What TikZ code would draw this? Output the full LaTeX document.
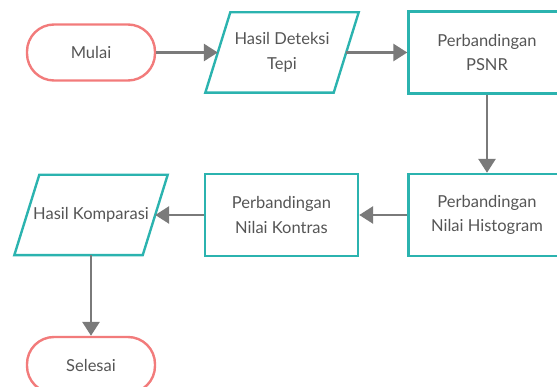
\documentclass[tikz,border=0pt]{standalone}
\usepackage{fontspec}
\setmainfont{Lato}
\usetikzlibrary{arrows.meta,calc}
\definecolor{termred}{HTML}{F27B7B}
\definecolor{tealc}{HTML}{2BB3AF}
\definecolor{arrowgray}{HTML}{7A7A7A}
\definecolor{txtgray}{HTML}{555555}
\begin{document}
\begin{tikzpicture}[x=1pt,y=-1pt,
  every node/.style={font=\fontsize{16.5}{24.5}\selectfont, text=txtgray, align=center, inner sep=0pt},
  terminal/.style={draw=termred, line width=2.4pt, rounded corners=27pt, minimum width=128pt, minimum height=56pt},
  procbox/.style={draw=tealc, line width=2.4pt, minimum width=157pt, minimum height=82pt},
  iobox/.style={minimum width=128pt, minimum height=80pt},
  para/.style={draw=tealc, line width=2.4pt, line join=miter},
  flow/.style={draw=arrowgray, line width=2.8pt, -{Triangle[length=14pt,width=17pt]}}
]
\useasboundingbox (0,0) rectangle (557,387);
\node[terminal] (mulai) at (91,52.5) {Mulai};
\node[iobox] (deteksi) at (282,52.5) {Hasil Deteksi\\Tepi};
\node[procbox] (psnr) at (487,52.5) {Perbandingan\\PSNR};
\node[procbox] (hist) at (487,215) {Perbandingan\\Nilai Histogram};
\node[procbox, minimum width=153pt] (kontras) at (281.5,215) {Perbandingan\\Nilai Kontras};
\node[iobox] (komparasi) at (91,215) {Hasil Komparasi};
\node[terminal] (selesai) at (91,365) {Selesai};
\draw[para] ($(deteksi.north west)+(12.5,0)$) -- ($(deteksi.north east)+(12.5,0)$) -- ($(deteksi.south east)+(-12.5,0)$) -- ($(deteksi.south west)+(-12.5,0)$) -- cycle;
\draw[para] ($(komparasi.north west)+(12.5,0)$) -- ($(komparasi.north east)+(12.5,0)$) -- ($(komparasi.south east)+(-12.5,0)$) -- ($(komparasi.south west)+(-12.5,0)$) -- cycle;
\draw[flow] (mulai) -- (deteksi);
\draw[flow] (deteksi) -- (psnr);
\draw[flow] (psnr) -- (hist);
\draw[flow] (hist) -- (kontras);
\draw[flow] (kontras) -- (komparasi);
\draw[flow] (komparasi) -- (selesai);
\end{tikzpicture}
\end{document}
